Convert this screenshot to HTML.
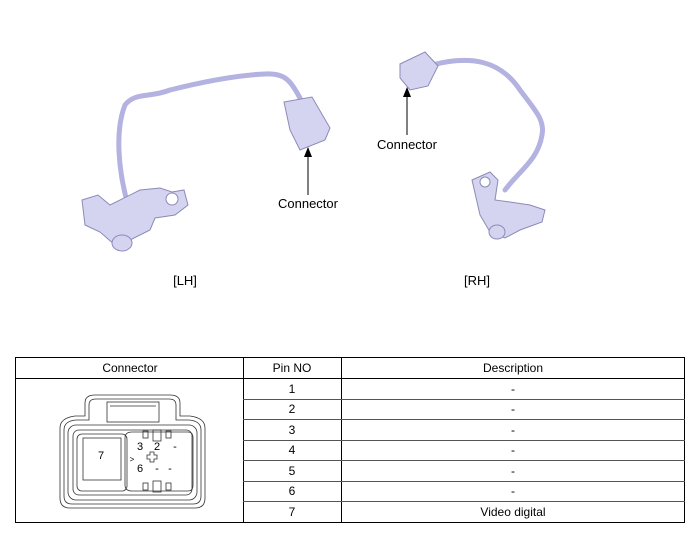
<!DOCTYPE html>
<html><head><style>
body{margin:0;background:#fff;width:700px;height:547px;overflow:hidden;font-family:"Liberation Sans",sans-serif;}
</style></head><body>
<svg width="700" height="547" viewBox="0 0 700 547" xmlns="http://www.w3.org/2000/svg" font-family="Liberation Sans, sans-serif">
<defs><marker id="a" markerWidth="10" markerHeight="8" refX="9" refY="4" orient="auto" markerUnits="userSpaceOnUse"><path d="M0,0 L10,4 L0,8 z" fill="#000"/></marker></defs>
<!-- LH camera -->
<g fill="#d4d3f0" stroke="#8c8bb8" stroke-width="1">
<path d="M128,205 C118,170 115,130 125,105 C135,92 150,98 170,90 C210,80 240,75 265,74 C285,73 290,80 300,98" fill="none" stroke="#b3b2e0" stroke-width="5" stroke-linecap="round"/>
<path d="M284,102 L312,97 L330,128 L325,140 L300,150 L290,130 Z"/>
<path d="M82,200 L98,195 L110,205 L140,190 L160,188 L172,192 L184,190 L188,205 L175,215 L155,218 L150,230 L130,240 L115,245 L100,232 L85,225 Z"/>
<circle cx="172" cy="199" r="6" fill="#fff"/>
<ellipse cx="122" cy="243" rx="10" ry="8"/>
</g>
<line x1="308" y1="195" x2="308" y2="148" stroke="#000" marker-end="url(#a)"/>
<text x="308" y="208" font-size="13" text-anchor="middle">Connector</text>
<text x="185" y="285" font-size="13" text-anchor="middle">[LH]</text>
<!-- RH camera -->
<g fill="#d4d3f0" stroke="#8c8bb8" stroke-width="1">
<path d="M432,65 C470,55 500,60 520,90 C535,110 545,120 542,135 C538,160 520,170 505,190" fill="none" stroke="#b3b2e0" stroke-width="5" stroke-linecap="round"/>
<path d="M400,64 L425,52 L438,66 L428,86 L410,90 L400,78 Z"/>
<path d="M472,180 L490,172 L498,180 L495,200 L510,202 L530,205 L545,210 L542,222 L520,230 L505,238 L490,232 L480,215 Z"/>
<circle cx="485" cy="182" r="5" fill="#fff"/>
<ellipse cx="497" cy="232" rx="8" ry="7"/>
</g>
<line x1="407" y1="135" x2="407" y2="88" stroke="#000" marker-end="url(#a)"/>
<text x="407" y="149" font-size="13" text-anchor="middle">Connector</text>
<text x="477" y="285" font-size="13" text-anchor="middle">[RH]</text>
<!-- table -->
<g stroke="#000" stroke-width="1" fill="none">
<rect x="15.5" y="357.5" width="669" height="165"/>
<line x1="15" y1="378.5" x2="685" y2="378.5"/>
<line x1="243.5" y1="357" x2="243.5" y2="522"/>
<line x1="341.5" y1="357" x2="341.5" y2="522"/>
<g stroke="#555">
<line x1="243" y1="399.5" x2="685" y2="399.5"/>
<line x1="243" y1="419.5" x2="685" y2="419.5"/>
<line x1="243" y1="440.5" x2="685" y2="440.5"/>
<line x1="243" y1="460.5" x2="685" y2="460.5"/>
<line x1="243" y1="481.5" x2="685" y2="481.5"/>
<line x1="243" y1="501.5" x2="685" y2="501.5"/>
</g>
</g>
<g font-size="12" text-anchor="middle">
<text x="130" y="372">Connector</text>
<text x="292" y="372">Pin NO</text>
<text x="513" y="372">Description</text>
<text x="292" y="393">1</text><text x="513" y="393">-</text>
<text x="292" y="413">2</text><text x="513" y="413">-</text>
<text x="292" y="434">3</text><text x="513" y="434">-</text>
<text x="292" y="454">4</text><text x="513" y="454">-</text>
<text x="292" y="475">5</text><text x="513" y="475">-</text>
<text x="292" y="495">6</text><text x="513" y="495">-</text>
<text x="292" y="516">7</text><text x="513" y="516">Video digital</text>
</g>
<!-- connector face -->
<g stroke="#333" stroke-width="0.8" fill="none">
<path d="M60,428 Q60,418 75,416 L85,416 L85,403 Q85,395 95,395 L170,395 Q180,395 180,403 L180,416 L190,416 Q205,418 205,428 L205,498 Q205,508 195,508 L70,508 Q60,508 60,498 Z"/>
<path d="M64,430 Q64,421 76,420 L89,420 L89,405 Q89,399 96,399 L169,399 Q176,399 176,405 L176,420 L189,420 Q201,421 201,430 L201,496 Q201,504 193,504 L72,504 Q64,504 64,496 Z"/>
<rect x="68" y="425" width="129" height="75" rx="8"/>
<rect x="73" y="430" width="119" height="65" rx="6"/>
<rect x="107" y="402" width="52" height="20"/>
<line x1="110" y1="406" x2="156" y2="406"/>
<rect x="77" y="434" width="50" height="57" rx="5"/>
<rect x="83" y="438" width="38" height="42"/>
<path d="M125,438 Q125,432 132,432 L188,432 Q193,432 193,438 L193,485 Q193,491 188,491 L132,491 Q125,491 125,485 Z"/>
<rect x="153" y="430" width="8" height="11"/><rect x="143" y="431" width="5" height="7"/><rect x="166" y="431" width="5" height="7"/>
<rect x="153" y="481" width="8" height="11"/><rect x="143" y="483" width="5" height="7"/><rect x="166" y="483" width="5" height="7"/>
<path d="M147,455 l3,0 0,-3 4,0 0,3 3,0 0,4 -3,0 0,3 -4,0 0,-3 -3,0 z"/>
</g>
<g font-size="11" text-anchor="middle">
<text x="101" y="459">7</text>
<text x="140" y="450">3</text><text x="157" y="450">2</text><text x="175" y="450">-</text>
<text x="140" y="472">6</text><text x="157" y="472">-</text><text x="170" y="472">-</text>
<text x="132" y="462" font-size="8">&gt;</text>
</g>
</svg>
</body></html>
